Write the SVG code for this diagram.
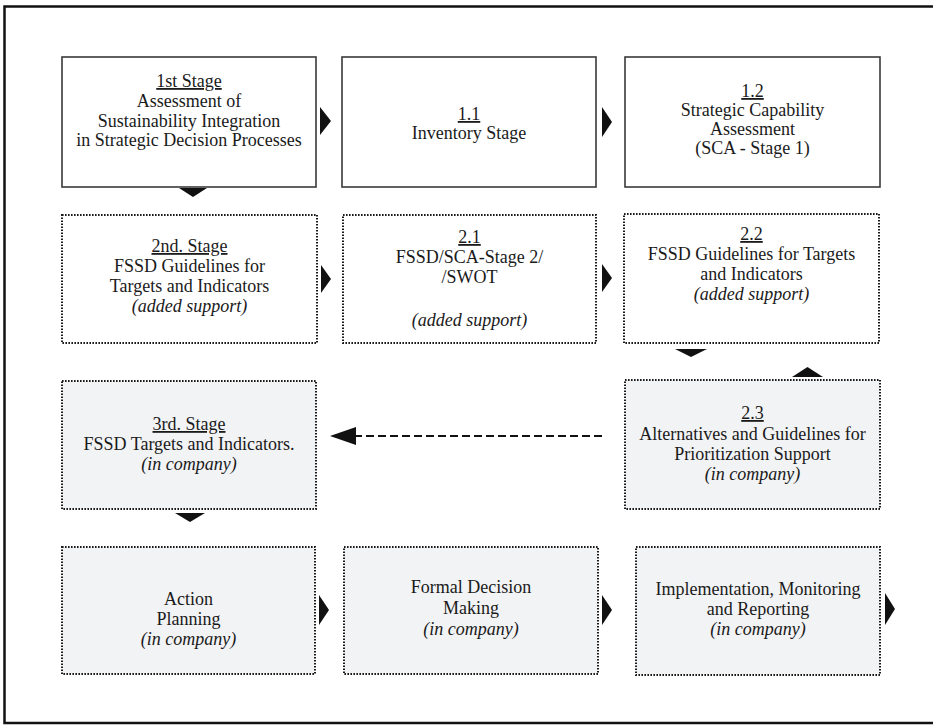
<svg xmlns="http://www.w3.org/2000/svg" width="933" height="725" viewBox="0 0 933 725">
<defs>
<style>
.solid{fill:#ffffff;stroke:#3a3a3a;stroke-width:1.6}
.dot{fill:#ffffff;stroke:#1a1a1a;stroke-width:2;stroke-dasharray:1.6 1.4}
.dotg{fill:#f2f3f5;stroke:#1a1a1a;stroke-width:2;stroke-dasharray:1.6 1.4}
text{font-family:"Liberation Serif","Times New Roman",serif;font-size:18px;fill:#1a1a1a;text-anchor:middle}
.u{text-decoration:underline}
.i{font-style:italic}
.ah{fill:#111111}
.dash{stroke:#111111;stroke-width:2;stroke-dasharray:8 4;fill:none}
</style>
</defs>
<rect width="933" height="725" fill="#ffffff"/>
<rect x="4.5" y="6.5" width="940" height="716.5" fill="none" stroke="#111111" stroke-width="2.5"/>

<g id="n1">
<rect class="solid" x="62" y="57" width="254" height="130"/>
<text x="189" y="87" class="u">1st Stage</text>
<text x="189" y="107">Assessment of</text>
<text x="189" y="127">Sustainability Integration</text>
<text x="189" y="146">in Strategic Decision Processes</text>
</g>
<g id="n11">
<rect class="solid" x="342" y="57" width="254" height="130"/>
<text x="469" y="120" class="u">1.1</text>
<text x="469" y="139">Inventory Stage</text>
</g>
<g id="n12">
<rect class="solid" x="625" y="57" width="255" height="130"/>
<text x="752.5" y="97" class="u">1.2</text>
<text x="752.5" y="116">Strategic Capability</text>
<text x="752.5" y="135">Assessment</text>
<text x="752.5" y="154">(SCA - Stage 1)</text>
</g>

<g id="n2">
<rect class="dot" x="62" y="215" width="255" height="128"/>
<text x="189.5" y="252" class="u">2nd. Stage</text>
<text x="189.5" y="272">FSSD Guidelines for</text>
<text x="189.5" y="292">Targets and Indicators</text>
<text x="189.5" y="312" class="i">(added support)</text>
</g>
<g id="n21">
<rect class="dot" x="343" y="215" width="253" height="128"/>
<text x="469.5" y="243" class="u">2.1</text>
<text x="469.5" y="263">FSSD/SCA-Stage 2/</text>
<text x="469.5" y="283">/SWOT</text>
<text x="469.5" y="326" class="i">(added support)</text>
</g>
<g id="n22">
<rect class="dot" x="624" y="214" width="255" height="129"/>
<text x="751.5" y="240" class="u">2.2</text>
<text x="751.5" y="260">FSSD Guidelines for Targets</text>
<text x="751.5" y="280">and Indicators</text>
<text x="751.5" y="300" class="i">(added support)</text>
</g>

<g id="n3">
<rect class="dotg" x="62" y="381" width="254" height="128"/>
<text x="189" y="430" class="u">3rd. Stage</text>
<text x="189" y="450">FSSD Targets and Indicators.</text>
<text x="189" y="470" class="i">(in company)</text>
</g>
<g id="n23">
<rect class="dotg" x="625" y="380" width="255" height="129"/>
<text x="752.5" y="419" class="u">2.3</text>
<text x="752.5" y="440">Alternatives and Guidelines for</text>
<text x="752.5" y="460">Prioritization Support</text>
<text x="752.5" y="480" class="i">(in company)</text>
</g>

<g id="n4">
<rect class="dotg" x="62" y="547" width="253" height="127"/>
<text x="188.5" y="605">Action</text>
<text x="188.5" y="625">Planning</text>
<text x="188.5" y="645" class="i">(in company)</text>
</g>
<g id="n5">
<rect class="dotg" x="344" y="547" width="254" height="127"/>
<text x="471" y="593">Formal Decision</text>
<text x="471" y="614">Making</text>
<text x="471" y="635" class="i">(in company)</text>
</g>
<g id="n6">
<rect class="dotg" x="636" y="547" width="244" height="128"/>
<text x="758" y="595">Implementation, Monitoring</text>
<text x="758" y="615">and Reporting</text>
<text x="758" y="635" class="i">(in company)</text>
</g>

<g id="connectors">
<polygon class="ah" points="320,107 331,121 320,135"/>
<polygon class="ah" points="602,107 612,122 602,137"/>
<polygon class="ah" points="179,188 207,188 193,197"/>
<polygon class="ah" points="321,265 331,279 321,293"/>
<polygon class="ah" points="602,264 612,278 602,292"/>
<polygon class="ah" points="675,349 707,349 691,357"/>
<polygon class="ah" points="792,377 823,377 807.5,367"/>
<line class="dash" x1="602" y1="436" x2="354" y2="436"/>
<polygon class="ah" points="356,427 330,436 356,445"/>
<polygon class="ah" points="175,513 205,513 190,522"/>
<polygon class="ah" points="319,595 329,610 319,625"/>
<polygon class="ah" points="602,595 612,610 602,625"/>
<polygon class="ah" points="885,593 895,609 885,625"/>
</g>
</svg>
